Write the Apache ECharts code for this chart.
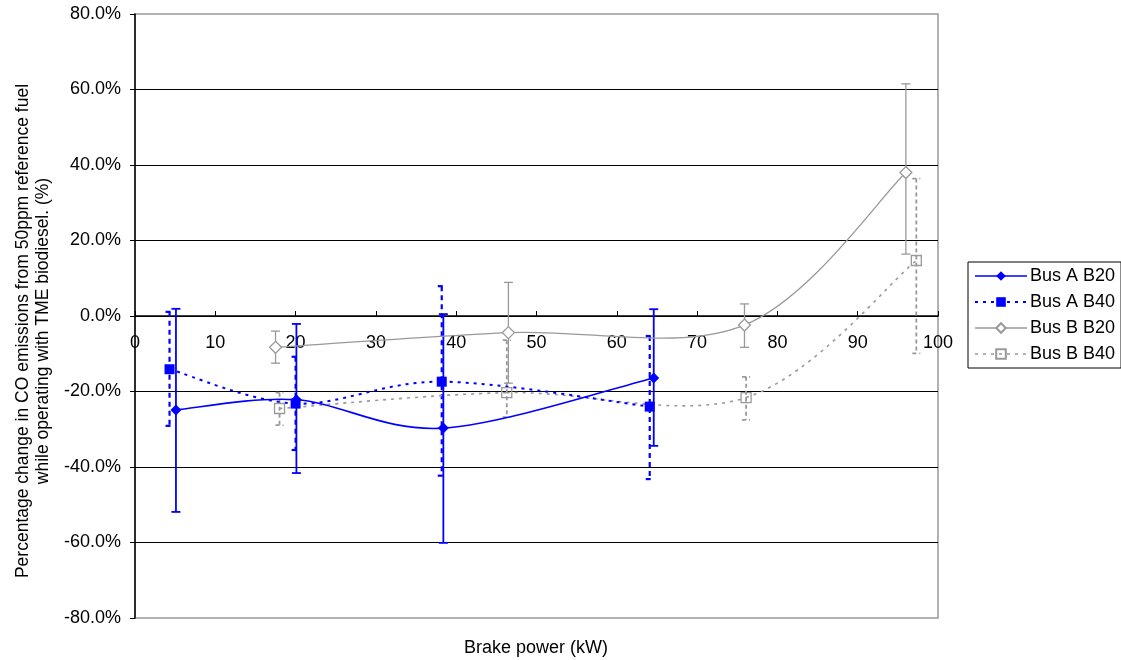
<!DOCTYPE html>
<html>
<head>
<meta charset="utf-8">
<script src="https://cdn.jsdelivr.net/npm/echarts@6/dist/echarts.min.js"></script>
<style>
  html, body { margin: 0; padding: 0; background: #fff; }
  #chart { width: 1121px; height: 660px; }
</style>
</head>
<body>
<div id="chart"></div>
<script>
// Brake power (kW) at each test point
const busAB20_x = [5.1, 20.1, 38.4, 64.6];
const busAB40_x = [4.3, 20.0, 38.2, 64.1];
const busBB20_x = [17.5, 46.5, 75.9, 96.0];
const busBB40_x = [18.0, 46.3, 76.1, 97.3];

// Mean change in CO emissions (%)
const busAB20_y = [-24.9, -22.2, -29.7, -16.4];
const busAB40_y = [-14.1, -23.2, -17.4, -24.0];
const busBB20_y = [-8.3, -4.4, -2.4, 38.0];
const busBB40_y = [-24.5, -20.3, -21.6, 14.7];

// Error bar upper / lower limits (%)
const busAB20_hi = [1.9, -2.1, 0.5, 1.8];
const busAB20_lo = [-51.9, -41.6, -60.1, -34.4];
const busAB40_hi = [1.1, -10.8, 7.9, -5.3];
const busAB40_lo = [-29.1, -35.5, -42.3, -43.2];
const busBB20_hi = [-4.0, 8.9, 3.2, 61.5];
const busBB20_lo = [-12.5, -17.8, -8.3, 16.4];
const busBB40_hi = [-20.3, -6.4, -16.1, 36.4];
const busBB40_lo = [-28.9, -26.8, -27.5, -9.9];

const seriesNames = ['Bus A B20', 'Bus A B40', 'Bus B B20', 'Bus B B40'];
const yTicks = [-80, -60, -40, -20, 0, 20, 40, 60, 80];
const xTicks = [0, 10, 20, 30, 40, 50, 60, 70, 80, 90, 100];

const FONT = '"Liberation Sans", Arial, Helvetica, sans-serif';
const BLUE = '#0000ff';
const GREY = '#999999';

const pairs = (xs, ys) => xs.map((x, i) => [x, ys[i]]);
const bars = (xs, lo, hi) => xs.map((x, i) => [x, lo[i], hi[i]]);

// Vertical error bar with end caps
function errorBar(color, dash, cap, width) {
  return function (params, api) {
    const x = api.value(0);
    const top = api.coord([x, api.value(2)]);
    const bot = api.coord([x, api.value(1)]);
    const style = { stroke: color, lineWidth: width, lineDash: dash, fill: null };
    return {
      type: 'group',
      children: [
        { type: 'line', shape: { x1: top[0], y1: top[1], x2: bot[0], y2: bot[1] }, style: style },
        { type: 'line', shape: { x1: top[0] - cap, y1: top[1], x2: top[0] + cap, y2: top[1] }, style: style },
        { type: 'line', shape: { x1: bot[0] - cap, y1: bot[1], x2: bot[0] + cap, y2: bot[1] }, style: style }
      ]
    };
  };
}

function errSeries(xs, lo, hi, color, dash, cap, width) {
  return {
    type: 'custom',
    silent: true,
    z: 3,
    renderItem: errorBar(color, dash, cap, width),
    encode: { x: 0, y: [1, 2] },
    data: bars(xs, lo, hi)
  };
}

// Smoothed connecting curve (cardinal Bezier through the points, tangent = (next - prev) / 6)
function curveSeries(xs, ys, color, width, dash, z) {
  return {
    type: 'custom',
    silent: true,
    z: z,
    encode: { x: 0, y: 1 },
    data: [[xs[0], ys[0]]],
    renderItem: function (params, api) {
      const p = xs.map((x, i) => api.coord([x, ys[i]]));
      const segs = [];
      for (let i = 0; i < p.length - 1; i++) {
        const p0 = p[i - 1] || p[i], p1 = p[i], p2 = p[i + 1], p3 = p[i + 2] || p[i + 1];
        segs.push({
          type: 'bezierCurve',
          shape: {
            x1: p1[0], y1: p1[1], x2: p2[0], y2: p2[1],
            cpx1: p1[0] + (p2[0] - p0[0]) / 6, cpy1: p1[1] + (p2[1] - p0[1]) / 6,
            cpx2: p2[0] - (p3[0] - p1[0]) / 6, cpy2: p2[1] - (p3[1] - p1[1]) / 6
          },
          style: { stroke: color, lineWidth: width, lineDash: dash, fill: null }
        });
      }
      return { type: 'group', children: segs };
    }
  };
}

const chart = echarts.init(document.getElementById('chart'), null, { renderer: 'canvas' });

const legendLines = {
  'Bus A B20': { color: BLUE, width: 1.6, type: 'solid', opacity: 1 },
  'Bus A B40': { color: BLUE, width: 2, type: [3, 5], opacity: 1 },
  'Bus B B20': { color: GREY, width: 1.3, type: 'solid', opacity: 1 },
  'Bus B B40': { color: GREY, width: 1.6, type: [3, 5], opacity: 1 }
};

chart.setOption({
  animation: false,
  backgroundColor: '#ffffff',
  textStyle: { fontFamily: FONT },
  grid: {
    left: 135, right: 183, top: 14, bottom: 42,
    show: true, borderColor: GREY, borderWidth: 1.5, backgroundColor: '#ffffff'
  },
  legend: {
    orient: 'vertical',
    left: 968, top: 262,
    data: seriesNames.map(n => ({ name: n, lineStyle: legendLines[n] })),
    borderColor: '#000', borderWidth: 1,
    padding: [5, 6, 5, 6],
    itemWidth: 52, itemHeight: 12, itemGap: 8,
    textStyle: { fontFamily: FONT, fontSize: 18, color: '#000', padding: [0, 0, 0, -2] }
  },
  graphic: [{
    type: 'text',
    x: 536, y: 648,
    style: {
      text: 'Brake power (kW)', fontFamily: FONT, fontSize: 18, fill: '#000',
      align: 'center', verticalAlign: 'middle'
    }
  }, {
    type: 'text',
    x: 33, y: 331,
    rotation: Math.PI / 2,
    style: {
      text: 'Percentage change in CO emissions from 50ppm reference fuel\nwhile operating with TME biodiesel. (%)',
      fontFamily: FONT, fontSize: 17.5, lineHeight: 20, fill: '#000',
      align: 'center', verticalAlign: 'middle'
    }
  }],
  xAxis: {
    type: 'value',
    min: 0, max: 100, interval: 10,
    offset: -302,
    axisLine: { onZero: false, lineStyle: { color: '#000', width: 1.5 } },
    axisTick: { inside: true, length: 5, lineStyle: { color: '#000' } },
    axisLabel: {
      margin: 18, fontSize: 18, color: '#000', fontFamily: FONT,
      formatter: v => (xTicks.includes(v) ? String(v) : '')
    },
    splitLine: { show: false }
  },
  yAxis: {
    type: 'value',
    min: -80, max: 80, interval: 20,
    axisLine: { show: true, onZero: false, lineStyle: { color: '#000', width: 1.5 } },
    axisTick: { show: true, inside: false, length: 5, lineStyle: { color: '#000' } },
    axisLabel: {
      margin: 14, fontSize: 18, color: '#000', fontFamily: FONT,
      formatter: v => (yTicks.includes(v) ? v.toFixed(1) + '%' : '')
    },
    splitLine: {
      show: true,
      lineStyle: {
        color: ['rgba(0,0,0,0)', '#000', '#000', '#000', '#000', '#000', '#000', '#000', 'rgba(0,0,0,0)'],
        width: 1.2
      }
    }
  },
  series: [
    errSeries(busBB20_x, busBB20_lo, busBB20_hi, GREY, null, 4.5, 1.3),
    errSeries(busBB40_x, busBB40_lo, busBB40_hi, GREY, [4, 3], 4, 1.8),
    errSeries(busAB20_x, busAB20_lo, busAB20_hi, BLUE, null, 4.5, 1.8),
    errSeries(busAB40_x, busAB40_lo, busAB40_hi, BLUE, [5, 4], 4, 2.2),
    curveSeries(busBB20_x, busBB20_y, GREY, 1.3, null, 4),
    curveSeries(busBB40_x, busBB40_y, GREY, 1.6, [3, 5], 4),
    curveSeries(busAB20_x, busAB20_y, BLUE, 1.6, null, 5),
    curveSeries(busAB40_x, busAB40_y, BLUE, 2, [3, 5], 5),
    {
      name: 'Bus B B20', type: 'line', z: 6,
      data: pairs(busBB20_x, busBB20_y),
      symbol: 'diamond', symbolSize: 12,
      lineStyle: { color: GREY, width: 1.3, opacity: 0 },
      itemStyle: { color: '#ffffff', borderColor: GREY, borderWidth: 1.3 }
    },
    {
      name: 'Bus B B40', type: 'line', z: 6,
      data: pairs(busBB40_x, busBB40_y),
      symbol: 'rect', symbolSize: 10,
      lineStyle: { color: GREY, width: 1.6, type: [3, 5], opacity: 0 },
      itemStyle: { color: 'rgba(255,255,255,0)', borderColor: GREY, borderWidth: 1.3 }
    },
    {
      name: 'Bus A B20', type: 'line', z: 7,
      data: pairs(busAB20_x, busAB20_y),
      symbol: 'diamond', symbolSize: 11,
      lineStyle: { color: BLUE, width: 1.6, opacity: 0 },
      itemStyle: { color: BLUE, borderColor: BLUE, borderWidth: 0 }
    },
    {
      name: 'Bus A B40', type: 'line', z: 7,
      data: pairs(busAB40_x, busAB40_y),
      symbol: 'rect', symbolSize: 10,
      lineStyle: { color: BLUE, width: 2, type: [3, 5], opacity: 0 },
      itemStyle: { color: BLUE, borderColor: BLUE, borderWidth: 0 }
    }
  ]
});
</script>
</body>
</html>
